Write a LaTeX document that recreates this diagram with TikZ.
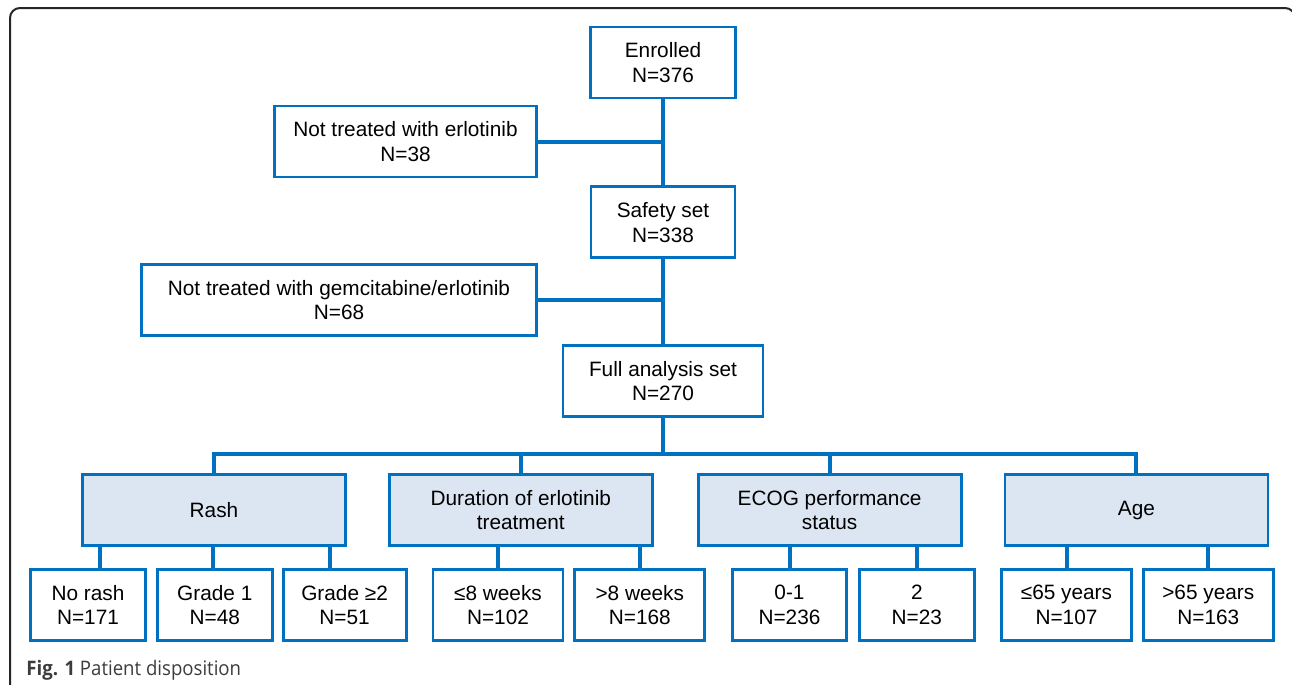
\documentclass[tikz,border=0pt]{standalone}
\usepackage{fontspec}
\setmainfont{Liberation Sans}
\newfontfamily\captionfont[FakeStretch=0.93]{Open Sans}
\usetikzlibrary{positioning}
\definecolor{flowblue}{HTML}{0070C0}
\definecolor{catfill}{HTML}{DCE6F2}
\definecolor{capgray}{HTML}{3C3C3C}
\tikzset{
	box/.style = {
		draw = flowblue,
		fill = white,
		line width = 1.4pt,
		rectangle,
		align = center,
		text = black,
		font = \fontsize{10.4}{12.4}\selectfont,
		minimum height = 35.5pt,
		inner sep = 0pt
	},
	catbox/.style = {
		box,
		fill = catfill,
		minimum width = 131.5pt
	},
	link/.style = {
		draw = flowblue,
		line width = 2pt
	}
}

\begin{document}
\begin{tikzpicture}[x=0.5pt, y=-0.5pt]
    \clip (0,0) rectangle (1292,685) ;
    \draw [line width = 1pt, rounded corners = 5pt, black!85] (10,700) -- (10,8) -- (1295,8) -- (1295,100) ;

    % main column
    \node [box, minimum width = 72.5pt] (enrolled) at (663,62.5) {Enrolled\\N=376} ;
    \node [box, minimum width = 72pt, below = 43pt of enrolled] (safety) {Safety set\\N=338} ;
    \node [box, minimum width = 100pt, below = 42.5pt of safety] (fas) {Full analysis set\\N=270} ;
    \node [box, minimum width = 131pt] (noterl) at (405.5,141.5) {Not treated with erlotinib\\N=38} ;
    \node [box, minimum width = 197.5pt] (nogem) at (339,300) {Not treated with gemcitabine/erlotinib\\N=68} ;

    \draw [link] (enrolled) -- (safety) ;
    \draw [link] (safety) -- (fas) ;
    \draw [link] (noterl.east) -- (noterl.east -| enrolled.south) ;
    \draw [link] (nogem.east) -- (nogem.east -| safety.south) ;

    % subgroups
    \coordinate (bar) at (663,453.5) ;
    \node [catbox] (rash) at (214,510) {Rash} ;
    \node [catbox, right = 20.5pt of rash] (dur) {Duration of erlotinib\\treatment} ;
    \node [catbox, right = 21.5pt of dur] (ecog) {ECOG performance\\status} ;
    \node [catbox, right = 20.5pt of ecog] (age) {Age} ;

    \draw [link] (fas.south) -- (bar) ;
    \draw [link] (rash.north) -- (rash.north |- bar) -- (age.north |- bar) -- (age.north) ;
    \draw [link] (dur.north) -- (dur.north |- bar) ;
    \draw [link] (ecog.north) -- (ecog.north |- bar) ;

    \node [box, minimum width = 57.5pt] (norash) at (88,605) {No rash\\N=171} ;
    \node [box, minimum width = 57.5pt, right = 4.5pt of norash] (grade1) {Grade 1\\N=48} ;
    \node [box, minimum width = 61.5pt, right = 4pt of grade1] (grade2) {Grade ≥2\\N=51} ;
    \node [box, minimum width = 65pt] (wk1) at (498,605) {≤8 weeks\\N=102} ;
    \node [box, minimum width = 65pt, right = 4.5pt of wk1] (wk2) {>8 weeks\\N=168} ;
    \node [box, minimum width = 57pt] (ecog01) at (789.5,605) {0-1\\N=236} ;
    \node [box, minimum width = 57.5pt, right = 5pt of ecog01] (ecog2) {2\\N=23} ;
    \node [box, minimum width = 65pt] (age1) at (1066.5,605) {≤65 years\\N=107} ;
    \node [box, minimum width = 65pt, right = 4.5pt of age1] (age2) {>65 years\\N=163} ;

    \draw [link] ([xshift = 6pt]norash.north) -- ([xshift = 6pt]norash.north |- rash.south) ;
    \draw [link] ([xshift = -1pt]grade1.north) -- ([xshift = -1pt]grade1.north |- rash.south) ;
    \draw [link] ([xshift = -7.5pt]grade2.north) -- ([xshift = -7.5pt]grade2.north |- rash.south) ;
    \draw [link] (wk1.north) -- (wk1.north |- dur.south) ;
    \draw [link] (wk2.north) -- (wk2.north |- dur.south) ;
    \draw [link] (ecog01.north) -- (ecog01.north |- ecog.south) ;
    \draw [link] (ecog2.north) -- (ecog2.north |- ecog.south) ;
    \draw [link] (age1.north) -- (age1.north |- age.south) ;
    \draw [link] (age2.north) -- (age2.north |- age.south) ;

    \node [anchor = base west, inner sep = 0pt, text = capgray, font = \captionfont\fontsize{10}{12}\selectfont] (caption) at (26,675) {\textbf{Fig. 1} Patient disposition} ;
\end{tikzpicture}
\end{document}
